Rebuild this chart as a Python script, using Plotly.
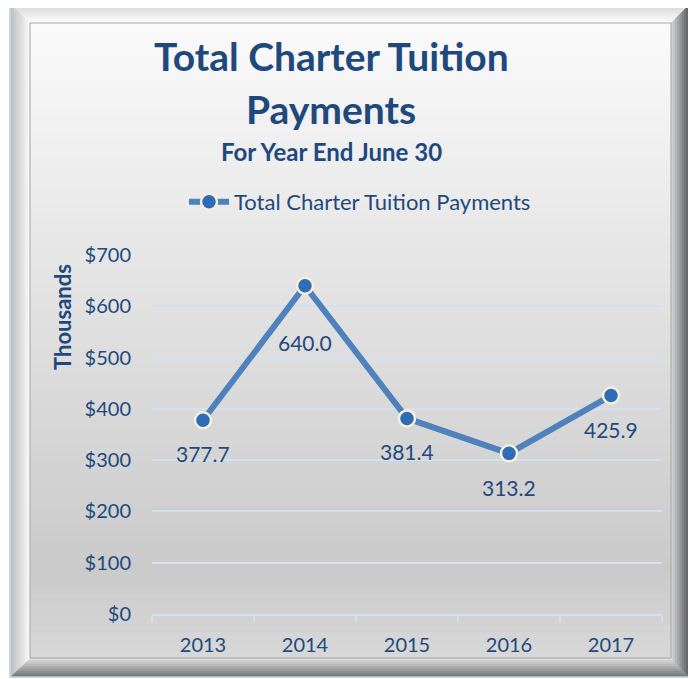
import plotly.graph_objects as go

years = ["2013", "2014", "2015", "2016", "2017"]
payments = [377.7, 640.0, 381.4, 313.2, 425.9]
y_ticks = [0, 100, 200, 300, 400, 500, 600, 700]
y_tick_labels = ["$0", "$100", "$200", "$300", "$400", "$500", "$600", "$700"]
label_shift = [-33, -57, -33, -34, -34]

W, H = 696, 679
OFF = 8  # page body margin
# target plot-area box in screen pixels
SX0, SX1, SY0, SY1 = 152, 662, 255, 614
ML, MT = SX0 - OFF, SY0 - OFF
MR, MB = W + OFF - SX1, H + OFF - SY1
PW, PH = SX1 - SX0, SY1 - SY0
FONT = "Lato"
NAVY = "#1f497d"


def px(x):
    return (x - SX0) / PW


def py(y):
    return (SY1 - y) / PH


def lerp(c1, c2, t):
    return "#%02x%02x%02x" % tuple(int(round(a + (b - a) * t)) for a, b in zip(c1, c2))


shapes = []

# outer light blue edge
shapes.append(dict(type="rect", xref="paper", yref="paper", x0=px(9), x1=px(691), y0=py(678), y1=py(3),
                   line=dict(width=0), fillcolor="#c6d9f1", layer="below"))

# bevel frame
ox0, oy0, ox1, oy1 = 11, 5, 689, 676
ix0, iy0, ix1, iy1 = 30, 23, 671, 658
n = 10
sides = {
    "top": ((215, 215, 215), (253, 253, 253)),
    "left": ((190, 190, 190), (250, 250, 250)),
    "right": ((85, 85, 85), (215, 215, 215)),
    "bottom": ((115, 115, 115), (225, 225, 225)),
}
for i in range(n):
    t0 = i / n
    t1 = (i + 1) / n
    ax0 = ox0 + (ix0 - ox0) * t0; ay0 = oy0 + (iy0 - oy0) * t0
    ax1 = ox1 + (ix1 - ox1) * t0; ay1 = oy1 + (iy1 - oy1) * t0
    bx0 = ox0 + (ix0 - ox0) * t1; by0 = oy0 + (iy0 - oy0) * t1
    bx1 = ox1 + (ix1 - ox1) * t1; by1 = oy1 + (iy1 - oy1) * t1
    tm = (i + 0.5) / n
    polys = {
        "top": [(ax0, ay0), (ax1, ay0), (bx1, by0), (bx0, by0)],
        "bottom": [(ax0, ay1), (ax1, ay1), (bx1, by1), (bx0, by1)],
        "left": [(ax0, ay0), (bx0, by0), (bx0, by1), (ax0, ay1)],
        "right": [(ax1, ay0), (bx1, by0), (bx1, by1), (ax1, ay1)],
    }
    for side, pts in polys.items():
        c = lerp(sides[side][0], sides[side][1], tm)
        path = "M " + " L ".join("%.4f,%.4f" % (px(x), py(y)) for x, y in pts) + " Z"
        shapes.append(dict(type="path", xref="paper", yref="paper", path=path,
                           fillcolor=c, line=dict(width=0.6, color=c), layer="below"))

# inner panel gradient
stops = [(23, (250, 250, 250)), (300, (226, 226, 226)), (570, (202, 202, 202)), (658, (216, 216, 216))]
nb = 80
for k in range(nb):
    y0 = iy0 + (iy1 - iy0) * k / nb
    y1 = iy0 + (iy1 - iy0) * (k + 1) / nb
    ym = (y0 + y1) / 2
    for j in range(len(stops) - 1):
        if stops[j][0] <= ym <= stops[j + 1][0]:
            t = (ym - stops[j][0]) / (stops[j + 1][0] - stops[j][0])
            c = lerp(stops[j][1], stops[j + 1][1], t)
            break
    shapes.append(dict(type="rect", xref="paper", yref="paper", x0=px(ix0), x1=px(ix1),
                       y0=py(y1 + 0.5), y1=py(y0), fillcolor=c, line=dict(width=0), layer="below"))
# inner panel thin border
shapes.append(dict(type="rect", xref="paper", yref="paper", x0=px(ix0), x1=px(ix1), y0=py(iy1), y1=py(iy0),
                   line=dict(width=1, color="#a6a6a6"), fillcolor="rgba(0,0,0,0)", layer="below"))

fig = go.Figure()
fig.add_trace(go.Scatter(
    x=years, y=payments, mode="lines+markers", name="Total Charter Tuition Payments",
    line=dict(color="#4f81bd", width=6),
    marker=dict(size=16, color="#2e6cb5", line=dict(color="#f3f0dc", width=2.5)),
    cliponaxis=False,
))

annotations = [
    dict(text="<b>Total Charter Tuition</b>", x=px(331), y=py(56), xref="paper", yref="paper",
         showarrow=False, font=dict(family=FONT, size=39, color=NAVY), xanchor="center", yanchor="middle"),
    dict(text="<b>Payments</b>", x=px(331), y=py(109), xref="paper", yref="paper",
         showarrow=False, font=dict(family=FONT, size=39, color=NAVY), xanchor="center", yanchor="middle"),
    dict(text="<b>For Year End June 30</b>", x=px(331), y=py(152), xref="paper", yref="paper",
         showarrow=False, font=dict(family=FONT, size=24, color=NAVY), xanchor="center", yanchor="middle"),
    dict(text="<b>Thousands</b>", x=px(62), y=py(317), xref="paper", yref="paper", textangle=-90,
         showarrow=False, font=dict(family=FONT, size=22, color=NAVY), xanchor="center", yanchor="middle"),
]
for i, (v, s) in enumerate(zip(payments, label_shift)):
    annotations.append(dict(text="%.1f" % v, x=i, y=v, xref="x", yref="y", showarrow=False,
                            yshift=s, font=dict(family=FONT, size=21, color=NAVY)))

fig.update_layout(
    width=W, height=H,
    margin=dict(l=ML, r=MR, t=MT, b=MB),
    paper_bgcolor="white", plot_bgcolor="rgba(0,0,0,0)",
    font=dict(family=FONT, color=NAVY),
    shapes=shapes,
    annotations=annotations,
    showlegend=True,
    legend=dict(orientation="h", x=px(184), y=py(202), xanchor="left", yanchor="middle",
                xref="paper", yref="paper",
                font=dict(family=FONT, size=22, color=NAVY), bgcolor="rgba(0,0,0,0)",
                itemwidth=40),
    xaxis=dict(type="category", range=[-0.5, 4.5], showgrid=False, showline=True, linecolor="#d3e0f0",
               linewidth=2, ticks="outside", tickson="boundaries", ticklen=6, tickcolor="#d3e0f0",
               tickwidth=2, ticklabelstandoff=12,
               tickfont=dict(family=FONT, size=20, color=NAVY), fixedrange=True),
    yaxis=dict(range=[0, 700], tickvals=y_ticks, ticktext=y_tick_labels, showgrid=True,
               gridcolor="#d3e0f0", gridwidth=2, zeroline=False, showline=False, ticks="",
               ticklabelstandoff=20, tickfont=dict(family=FONT, size=20, color=NAVY), fixedrange=True),
)

fig.write_html("out.html")
